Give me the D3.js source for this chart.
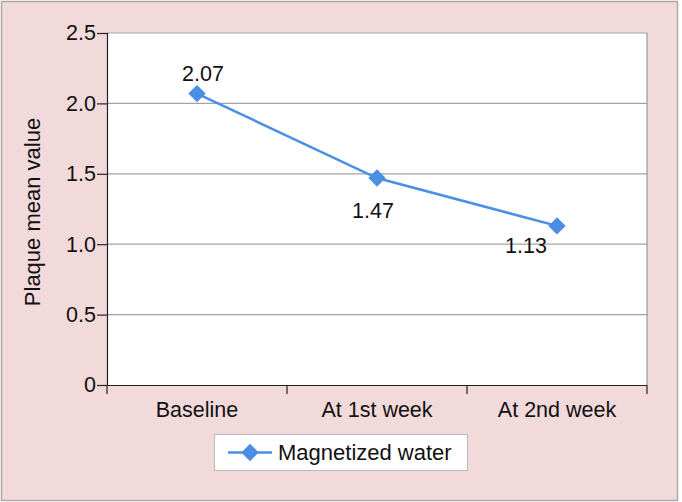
<!DOCTYPE html>
<html><head><meta charset="utf-8">
<script src="https://cdn.jsdelivr.net/npm/d3@7"></script>
<style>body{margin:0;background:#fff}svg{display:block}</style>
</head><body>
<script>
const categories = ["Baseline", "At 1st week", "At 2nd week"];
const values = [2.07, 1.47, 1.13];
const seriesName = "Magnetized water";
const yTicks = [0, 0.5, 1.0, 1.5, 2.0, 2.5];
const yTickLabels = ["0", "0.5", "1.0", "1.5", "2.0", "2.5"];

const W = 682, H = 502;
const m = {left: 107, right: 35, top: 33, bottom: 117};
const svg = d3.select("body").append("svg").attr("width", W).attr("height", H);
const font = "Liberation Sans, Arial, sans-serif";
const fs = 21.5;

svg.append("rect").attr("x", 1.5).attr("y", 1.5).attr("width", 676).attr("height", 499)
  .attr("fill", "#f2d9da").attr("stroke", "#b0a8a8").attr("stroke-width", 1.5);

const x = d3.scaleBand().domain(categories).range([m.left, W - m.right]);
const y = d3.scaleLinear().domain([0, 2.5]).range([H - m.bottom, m.top]);

svg.append("rect").attr("x", m.left).attr("y", m.top)
  .attr("width", W - m.right - m.left).attr("height", H - m.bottom - m.top).attr("fill", "#fff");

// gridlines
svg.append("g").selectAll("line").data(yTicks.filter(d => d > 0)).join("line")
  .attr("x1", m.left).attr("x2", W - m.right)
  .attr("y1", d => y(d)).attr("y2", d => y(d))
  .attr("stroke", "#a3a3a3").attr("stroke-width", 1.2);

// y axis
const yAxis = svg.append("g").attr("transform", `translate(${m.left},0)`)
  .call(d3.axisLeft(y).tickValues(yTicks).tickFormat((d, i) => yTickLabels[i]).tickSize(10).tickPadding(1));
// x axis
const xAxis = svg.append("g").attr("transform", `translate(0,${H - m.bottom})`)
  .call(d3.axisBottom(x).tickSize(0).tickPadding(17));
// category boundary ticks
const bounds = categories.map(c => x(c)).concat([x(categories[categories.length-1]) + x.bandwidth()]);
svg.append("g").selectAll("line").data(bounds).join("line")
  .attr("x1", d => d).attr("x2", d => d)
  .attr("y1", H - m.bottom).attr("y2", H - m.bottom + 9)
  .attr("stroke", "#222").attr("stroke-width", 1.2);
// right border
svg.append("line").attr("x1", W - m.right).attr("x2", W - m.right)
  .attr("y1", m.top).attr("y2", H - m.bottom).attr("stroke", "#888").attr("stroke-width", 1);

[yAxis, xAxis].forEach(a => {
  a.selectAll("path").attr("stroke", "#222").attr("stroke-width", 1.2);
  a.selectAll("line").attr("stroke", "#222").attr("stroke-width", 1.2);
  a.selectAll("text").attr("font-family", font).attr("font-size", fs).attr("fill", "#111");
});
xAxis.select(".domain").attr("d", `M${m.left},0.5H${W - m.right}`);
yAxis.select(".domain").attr("d", `M0.5,${m.top}V${H - m.bottom}`);

// y label
svg.append("text").attr("transform", `translate(40,${(m.top + H - m.bottom)/2 + 3}) rotate(-90)`)
  .attr("text-anchor", "middle").attr("font-family", font).attr("font-size", 22).attr("fill", "#111")
  .text("Plaque mean value");

const blue = "#4a8fe3";
const cx = d => x(d) + x.bandwidth() / 2;
const line = d3.line().x((d, i) => cx(categories[i])).y(d => y(d));
svg.append("path").datum(values).attr("d", line).attr("fill", "none")
  .attr("stroke", blue).attr("stroke-width", 2.5);
svg.append("g").selectAll("path").data(values).join("path")
  .attr("d", d3.symbol().type(d3.symbolSquare).size(150)())
  .attr("transform", (d, i) => `translate(${cx(categories[i])},${y(d)}) rotate(45)`)
  .attr("fill", blue);

// data labels
const labelOffsets = [[6, -13], [-4, 40], [-31, 27]];
svg.append("g").selectAll("text").data(values).join("text")
  .attr("x", (d, i) => cx(categories[i]) + labelOffsets[i][0])
  .attr("y", (d, i) => y(d) + labelOffsets[i][1])
  .attr("text-anchor", "middle").attr("font-family", font).attr("font-size", fs).attr("fill", "#111")
  .text(d => d.toFixed(2));

// legend
const lg = svg.append("g").attr("transform", "translate(214,434)");
lg.append("rect").attr("x", 0.5).attr("y", 0.5).attr("width", 253).attr("height", 36)
  .attr("fill", "#fff").attr("stroke", "#b8b8b8");
lg.append("line").attr("x1", 14).attr("x2", 58).attr("y1", 18.5).attr("y2", 18.5)
  .attr("stroke", blue).attr("stroke-width", 2.5);
lg.append("path").attr("d", d3.symbol().type(d3.symbolSquare).size(150)())
  .attr("transform", "translate(36,18.5) rotate(45)").attr("fill", blue);
lg.append("text").attr("x", 64).attr("y", 26).attr("font-family", font).attr("font-size", 22)
  .attr("fill", "#111").text(seriesName);
</script>
</body></html>
